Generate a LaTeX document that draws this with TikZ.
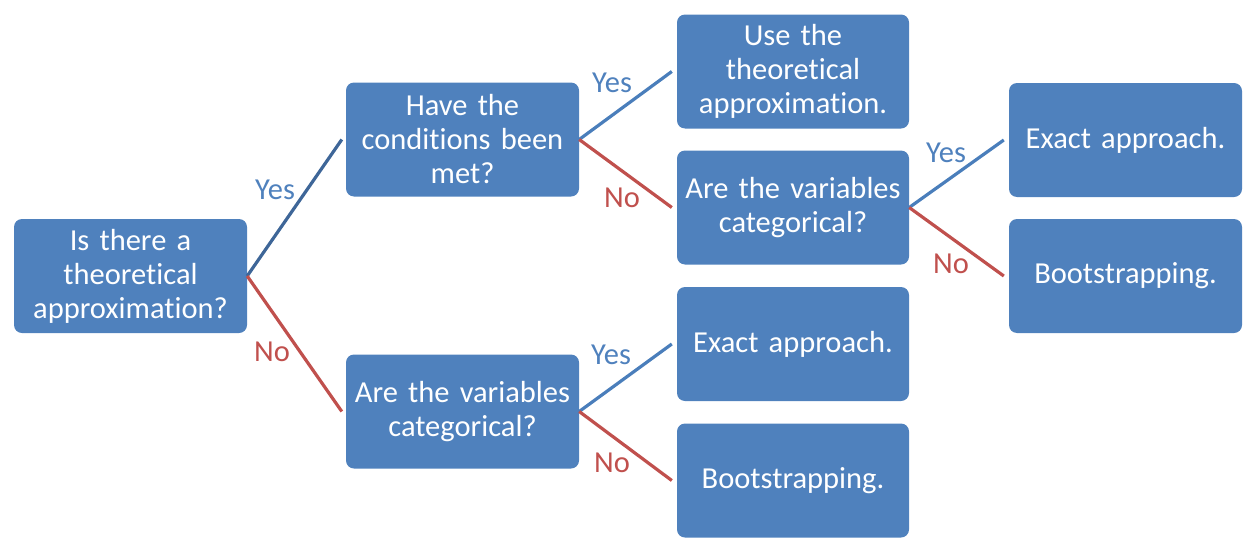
\documentclass[tikz,border=0pt]{standalone}
\usepackage{fontspec}
\setmainfont{Carlito}[Ligatures={NoCommon},WordSpace=0.8]
\definecolor{boxblue}{HTML}{4F81BD}
\definecolor{lineblue}{HTML}{4A7EBB}
\definecolor{lineblued}{HTML}{3E6698}
\definecolor{linered}{HTML}{C0504D}
\begin{document}
\begin{tikzpicture}[x=1pt,y=-1pt,
  box/.style={draw=none,fill=boxblue,rounded corners=8pt,minimum width=233pt,minimum height=114pt,
    text width=228pt,align=center,text=white,inner sep=0pt,font=\fontsize{30.5}{34}\selectfont},
  yesline/.style={draw=lineblue,line width=3.2pt},
  noline/.style={draw=linered,line width=3.2pt},
  yeslab/.style={anchor=base west,inner sep=0pt,text=boxblue,font=\fontsize{30.5}{34}\selectfont},
  nolab/.style={anchor=base west,inner sep=0pt,text=linered,font=\fontsize{30.5}{34}\selectfont}]
\useasboundingbox (0,0) rectangle (1257,554);
\node[box] (A) at (130.5,276) {Is there a\\theoretical\\approximation?};
\node[box] (B) at (462.5,139.5) {Have the\\conditions been\\met?};
\node[box] (C) at (462.5,411.5) {Are the variables\\categorical?};
\node[box,minimum width=232pt] (D) at (793,71.5) {Use the\\theoretical\\approximation.};
\node[box,minimum width=232pt] (E) at (793,207.5) {Are the variables\\categorical?};
\node[box,minimum width=232pt] (F) at (793,344) {Exact approach.};
\node[box,minimum width=232pt] (G) at (793,480.5) {Bootstrapping.};
\node[box] (H) at (1125.5,140) {Exact approach.};
\node[box] (I) at (1125.5,276) {Bootstrapping.};
\draw[yesline,draw=lineblued] (A.east) -- ([xshift=-4pt]B.west);
\draw[noline] (A.east) -- ([xshift=-4pt]C.west);
\draw[yesline] (B.east) -- ([xshift=-5pt]D.west);
\draw[noline] (B.east) -- ([xshift=-5pt]E.west);
\draw[yesline] (C.east) -- ([xshift=-5pt]F.west);
\draw[noline] (C.east) -- ([xshift=-5pt]G.west);
\draw[yesline] (E.east) -- ([xshift=-5pt]H.west);
\draw[noline] (E.east) -- ([xshift=-5pt]I.west);
\node[yeslab] (y1) at (255,199) {Yes};
\node[nolab] (n1) at (254,361) {No};
\node[yeslab] (y2) at (592,92) {Yes};
\node[nolab] (n2) at (604,207) {No};
\node[yeslab] (y3) at (591,364) {Yes};
\node[nolab] (n3) at (594,472) {No};
\node[yeslab] (y4) at (926,162) {Yes};
\node[nolab] (n4) at (933,273) {No};
\end{tikzpicture}
\end{document}
